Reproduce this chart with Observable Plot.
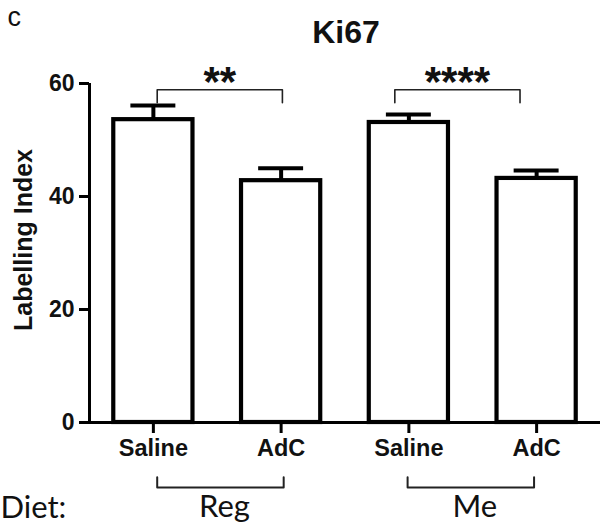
<!DOCTYPE html>
<html>
<head>
<meta charset="utf-8">
<script src="https://cdn.jsdelivr.net/npm/d3@7"></script>
<script src="https://cdn.jsdelivr.net/npm/@observablehq/plot@0.6"></script>
<style>
  html, body { margin: 0; padding: 0; background: #fff; }
  #chart svg { display: block; }
</style>
</head>
<body>
<div id="chart"></div>
<script>
// ---- data ----
const categories = ["Saline", "AdC", "Saline", "AdC"];
const means      = [53.6, 42.8, 53.1, 43.2];
const errTop     = [56.1, 45.0, 54.5, 44.6];
const yTicks     = [0, 20, 40, 60];

const sigLabels  = ["**", "****"];
const sigFrom    = [0.03, 1.89];
const sigTo      = [1.01, 2.87];
const sigBarY    = 58.9;
const sigTickY   = 56.6;

const dietLabels = ["Reg", "Me"];
const dietFrom   = [0.03, 1.99];
const dietTo     = [1.02, 2.98];
const dietTickY  = -9.7;
const dietBarY   = -11.5;

const title = "Ki67";
const panel = "c";
const yLabel = "Labelling Index";
const dietTitle = "Diet:";

// ---- derived tables ----
const bars = categories.map((c, i) => ({i, c, mean: means[i], err: errTop[i]}));
const halfBar = 0.31, halfCap = 0.176;

const sigPts = sigLabels.flatMap((s, k) => [
  {g: k, x: sigFrom[k], y: sigTickY},
  {g: k, x: sigFrom[k], y: sigBarY},
  {g: k, x: sigTo[k], y: sigBarY},
  {g: k, x: sigTo[k], y: sigTickY}
]);
const sigText = sigLabels.map((s, k) => ({s, x: (sigFrom[k] + sigTo[k]) / 2}));

const dietPts = dietLabels.flatMap((s, k) => [
  {g: k, x: dietFrom[k], y: dietTickY},
  {g: k, x: dietFrom[k], y: dietBarY},
  {g: k, x: dietTo[k], y: dietBarY},
  {g: k, x: dietTo[k], y: dietTickY}
]);
const dietText = dietLabels.map((s, k) => ({s, x: (dietFrom[k] + dietTo[k]) / 2}));

const chart = Plot.plot({
  width: 600,
  height: 526,
  marginLeft: 89,
  marginRight: 0,
  marginTop: 83,
  marginBottom: 104,
  style: {fontFamily: "'Liberation Sans', Arial, sans-serif", background: "#fff", color: "#111"},
  x: {domain: [-0.5, 3.5]},
  y: {domain: [0, 60]},
  marks: [
    // axes
    Plot.axisY(yTicks, {tickSize: 10, tickPadding: 5, strokeWidth: 3, fontSize: 23, fontWeight: "bold", label: null, stroke: "#000"}),
    Plot.axisX([0, 1, 2, 3], {tickFormat: i => categories[i], tickSize: 11, tickPadding: 6, strokeWidth: 3, fontSize: 23.5, fontWeight: "bold", label: null, stroke: "#000"}),
    Plot.ruleX([-0.5], {y1: 0, y2: 60, stroke: "#000", strokeWidth: 3}),
    Plot.ruleY([0], {stroke: "#000", strokeWidth: 3}),
    // bars
    Plot.rectY(bars, {x1: d => d.i - halfBar, x2: d => d.i + halfBar, y: "mean", fill: "#fff", stroke: "#000", strokeWidth: 4.2}),
    // error bars
    Plot.ruleX(bars, {x: "i", y1: "mean", y2: "err", stroke: "#000", strokeWidth: 4}),
    Plot.ruleY(bars, {y: "err", x1: d => d.i - halfCap, x2: d => d.i + halfCap, stroke: "#000", strokeWidth: 4}),
    // significance brackets
    Plot.line(sigPts, {x: "x", y: "y", z: "g", stroke: "#222", strokeWidth: 1.6}),
    Plot.text(sigText, {x: "x", y: sigBarY, text: "s", dy: 6, lineAnchor: "bottom", fontSize: 42, fontWeight: "bold", fill: "#111", style: "letter-spacing:2px"}),
    // diet brackets
    Plot.line(dietPts, {x: "x", y: "y", z: "g", stroke: "#222", strokeWidth: 2}),
    Plot.text(dietText, {x: "x", y: -16.8, text: "s", dx: 4, lineAnchor: "bottom", fontSize: 31, fontFamily: "Lato, 'Open Sans', sans-serif", fill: "#111"}),
    Plot.text([dietTitle], {frameAnchor: "bottom-left", dx: -89, dy: 95, textAnchor: "start", lineAnchor: "bottom", fontSize: 31, fontFamily: "Lato, 'Open Sans', sans-serif", fill: "#111"}),
    // titles
    Plot.text([title], {frameAnchor: "top", dy: -41, dx: 1, lineAnchor: "bottom", fontSize: 32, fontWeight: "bold", fill: "#111"}),
    Plot.text([panel], {frameAnchor: "top-left", dx: -82, dy: -58, textAnchor: "start", lineAnchor: "bottom", fontSize: 27, fill: "#111"}),
    Plot.text([yLabel], {frameAnchor: "left", dx: -66, dy: -13, rotate: -90, textAnchor: "middle", lineAnchor: "middle", fontSize: 25, fontWeight: "bold", fill: "#111"})
  ]
});
document.getElementById("chart").appendChild(chart);
</script>
</body>
</html>
